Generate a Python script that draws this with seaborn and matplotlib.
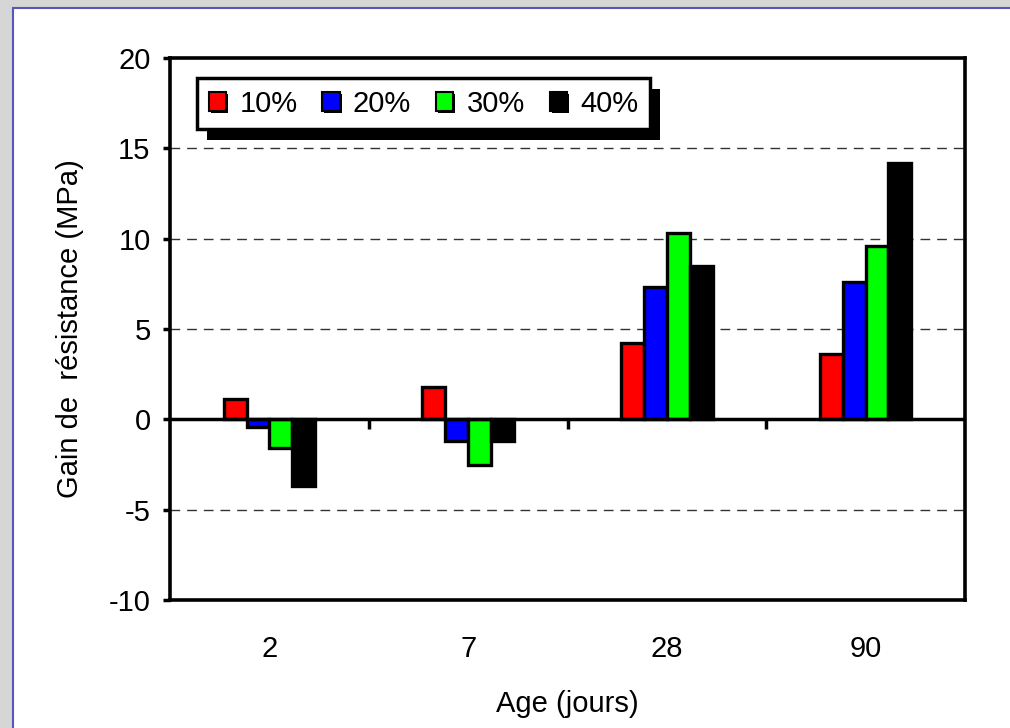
import numpy as np
import pandas as pd
import matplotlib
matplotlib.use('Agg')
import matplotlib.pyplot as plt
import matplotlib.patheffects as pe
from matplotlib.patches import Rectangle
import seaborn as sns

# valeurs
ages = ['2', '7', '28', '90']
dosages = ['10%', '20%', '30%', '40%']
gain_10 = [1.15, 1.8, 4.25, 3.6]
gain_20 = [-0.4, -1.2, 7.3, 7.6]
gain_30 = [-1.6, -2.5, 10.3, 9.6]
gain_40 = [-3.7, -1.2, 8.5, 14.2]
couleurs = ['#ff0000', '#0000ff', '#00ff00', '#000000']

df = pd.DataFrame({
    'age': ages * 4,
    'dosage': np.repeat(dosages, len(ages)),
    'gain': gain_10 + gain_20 + gain_30 + gain_40,
})

sns.set_style('white')
plt.rcParams['font.family'] = ['Liberation Sans', 'DejaVu Sans']
plt.rcParams['axes.unicode_minus'] = False
plt.rcParams['text.color'] = 'black'
plt.rcParams['axes.labelcolor'] = 'black'
plt.rcParams['xtick.color'] = 'black'
plt.rcParams['ytick.color'] = 'black'

fig = plt.figure(figsize=(10.1, 7.28), dpi=100)
fig.patch.set_facecolor('#d6d6d6')
# panneau blanc avec bord bleu
fig.patches.append(Rectangle((13 / 1010, -0.05), 1.1, 1 - 8 / 728 + 0.05,
                             transform=fig.transFigure, facecolor='white',
                             edgecolor='#5558b8', linewidth=1.5, zorder=-10))

ax = fig.add_axes([170 / 1010, 1 - 600 / 728, 795 / 1010, 542 / 728])
ax.set_facecolor('white')

sns.barplot(data=df, x='age', y='gain', hue='dosage', order=ages,
            hue_order=dosages, palette=couleurs, saturation=1, width=0.46,
            edgecolor='black', linewidth=2.4, ax=ax)

for p in ax.patches:
    p.set_path_effects([pe.SimplePatchShadow(offset=(1.5, -1.5), shadow_rgbFace='black', alpha=1),
                        pe.Normal()])

ax.set_ylim(-10, 20)
ax.set_xlim(-0.5, len(ages) - 0.5)
ax.set_yticks(np.arange(-10, 21, 5))
for y in [-5, 5, 10, 15]:
    ax.axhline(y, color='#333333', lw=1, ls=(0, (7, 5)), zorder=0)

# axe des catégories à zéro
ax.axhline(0, color='black', lw=2.5, zorder=3)
ax.vlines(np.arange(len(ages) - 1) + 0.5, -0.55, 0, color='black', lw=2.5, zorder=3)

for s in ax.spines.values():
    s.set_visible(True)
    s.set_linewidth(2.6)
    s.set_color('black')

ax.tick_params(axis='y', direction='out', length=5, width=2.5, pad=9, labelsize=21, left=True)
ax.tick_params(axis='x', length=0, pad=25, labelsize=21)

ax.set_xlabel('Age (jours)', fontsize=21, labelpad=20)
ax.set_ylabel('Gain de  résistance (MPa)', fontsize=21, labelpad=18)

leg = ax.legend(loc='upper left', bbox_to_anchor=(27 / 795, 1 - 20 / 542), borderaxespad=0,
                ncol=4, fontsize=21, frameon=True, fancybox=False, handlelength=0.6,
                handleheight=0.6, handletextpad=0.45, columnspacing=0.85, borderpad=0.4,
                title=None)
frame = leg.get_frame()
frame.set_edgecolor('black')
frame.set_linewidth(2.5)
frame.set_alpha(1)
frame.set_path_effects([pe.SimplePatchShadow(offset=(7, -8), shadow_rgbFace='black', alpha=1),
                        pe.Normal()])
for h in leg.legend_handles:
    h.set_edgecolor('black')
    h.set_linewidth(1.5)

fig.savefig('out.png', dpi=100, facecolor=fig.get_facecolor())
